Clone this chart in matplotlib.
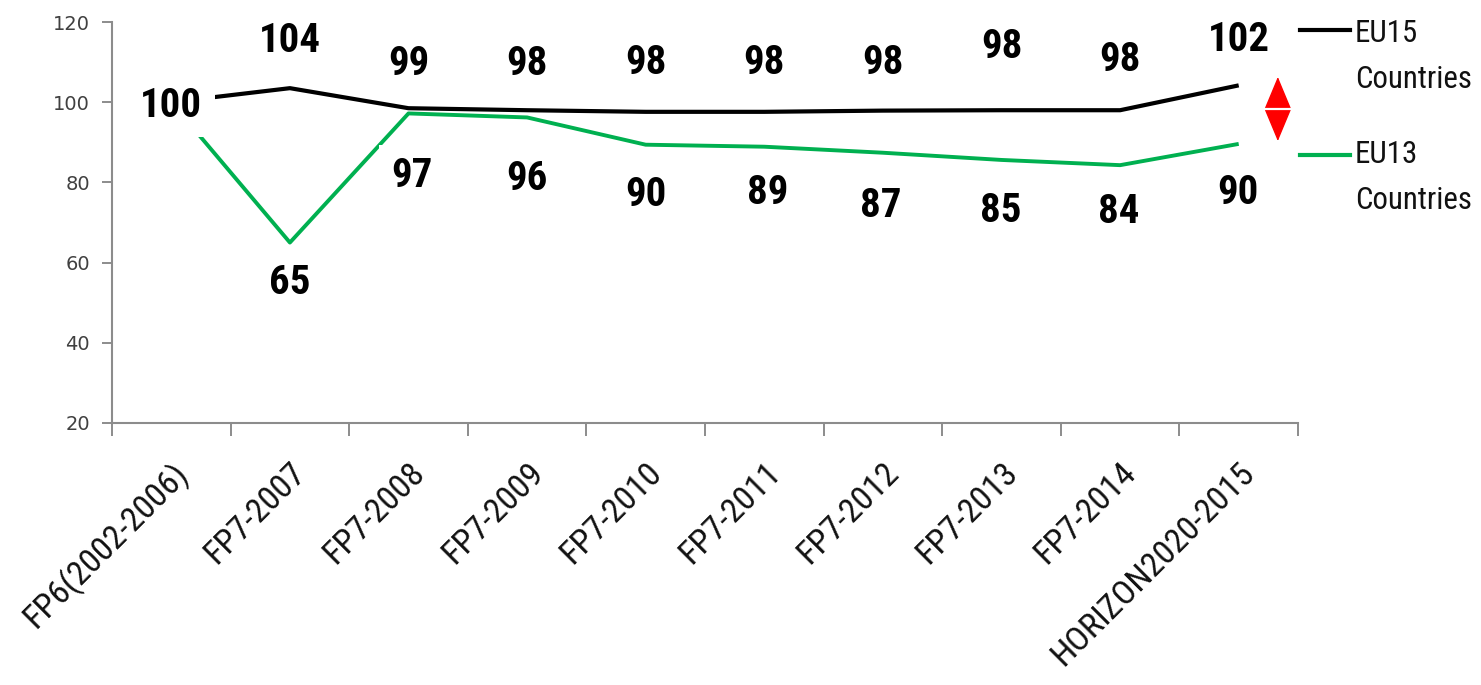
import matplotlib
matplotlib.use("Agg")
import matplotlib.pyplot as plt
from matplotlib import font_manager as fm
from matplotlib.font_manager import FontProperties
from matplotlib.textpath import TextToPath
from matplotlib.lines import Line2D
from matplotlib.transforms import ScaledTranslation

# ---------------- data ----------------
categories = ["FP6(2002-2006)", "FP7-2007", "FP7-2008", "FP7-2009", "FP7-2010",
              "FP7-2011", "FP7-2012", "FP7-2013", "FP7-2014", "HORIZON2020-2015"]
eu15 = [100, 103.5, 98.5, 98, 97.6, 97.6, 97.9, 98, 98, 104.2]
eu15_labels = ["100", "104", "99", "98", "98", "98", "98", "98", "98", "102"]
eu13 = [100, 65, 97.2, 96.2, 89.4, 88.9, 87.4, 85.6, 84.3, 89.6]
eu13_labels = ["", "65", "97", "96", "90", "89", "87", "85", "84", "90"]
series_names = ["EU15\nCountries", "EU13\nCountries"]
yticks = [20, 40, 60, 80, 100, 120]

# ---------------- fonts ----------------
ttf = fm.fontManager.ttflist
names = {f.name for f in ttf}
NARROW = None
NARROW_STRETCH = "normal"
for cand in ["Liberation Sans Narrow", "Roboto Condensed", "Open Sans Condensed",
             "DejaVu Sans Condensed", "Arial Narrow"]:
    if cand in names:
        NARROW = cand
        break
if NARROW is None:
    NARROW = "DejaVu Sans"
    if any(f.name == "DejaVu Sans" and f.stretch == "condensed" for f in ttf):
        NARROW_STRETCH = "condensed"

_t2p = TextToPath()


def fit_size(text, target_w_px, target_cap_px, weight="normal"):
    """Largest font size (pt) so that text width <= target and cap height <= target."""
    fp = FontProperties(family=NARROW, weight=weight, stretch=NARROW_STRETCH, size=10)
    w, h, d = _t2p.get_text_width_height_descent(text, fp, ismath=False)
    capw, caph, capd = _t2p.get_text_width_height_descent("H", fp, ismath=False)
    s_w = 10 * (target_w_px * 0.72) / w
    s_h = 10 * (target_cap_px * 0.72) / caph
    return min(s_w, s_h), caph / 10.0


XLAB_FS, _ = fit_size("HORIZON2020-2015", 272, 28)
LABEL_FS, LABEL_CAP = fit_size("104", 62, 30, weight="bold")
LEG_FS, _ = fit_size("Countries", 117, 26)

GREEN = "#00B050"
GRAY = "#8C8C8C"
PX = 0.72  # points per pixel at dpi 100

# label offsets in pixels (dx, dy downwards) relative to the data point
eu15_off = [(0, 0), (0, -51), (0, -48), (0, -50), (0, -52), (0, -52), (0, -51), (0, -67), (0, -54), (0, -49)]
eu13_off = [(0, 0), (0, 37), (3, 59), (0, 58), (0, 47), (3, 43), (-2, 50), (-1, 48), (-1, 43), (-1, 46)]

W, H = 1481, 685
fig = plt.figure(figsize=(W / 100, H / 100), dpi=100)
ax = fig.add_axes([112 / W, (H - 423) / H, (1298 - 112) / W, (423 - 22) / H])

x = list(range(len(categories)))
ax.plot(x, eu15, color="black", lw=3.0, solid_capstyle="butt", zorder=3)
ax.plot(x, eu13, color=GREEN, lw=2.8, solid_capstyle="butt", zorder=3)

ax.set_xlim(-0.5, len(categories) - 0.5)
ax.set_ylim(20, 120)
ax.set_yticks(yticks)
ax.set_yticklabels([str(v) for v in yticks], fontsize=14, color="#404040",
                   family="DejaVu Sans")
ax.set_xticks(x)
ax.set_xticklabels(categories, rotation=45, ha="right", va="top",
                   rotation_mode="anchor", fontsize=XLAB_FS, family=NARROW,
                   fontstretch=NARROW_STRETCH, color="#111111")
shift = ScaledTranslation(-10 / 100, 8 / 100, fig.dpi_scale_trans)
for lab in ax.get_xticklabels():
    lab.set_transform(lab.get_transform() + shift)
ax.set_xticks([i - 0.5 for i in range(len(categories) + 1)], minor=True)
ax.tick_params(axis="x", which="major", length=0, pad=24)
ax.tick_params(axis="x", which="minor", length=9, width=1.4, color=GRAY)
ax.tick_params(axis="y", length=7, width=1.4, color=GRAY, pad=9)

for s in ["top", "right"]:
    ax.spines[s].set_visible(False)
for s in ["left", "bottom"]:
    ax.spines[s].set_color(GRAY)
    ax.spines[s].set_linewidth(1.5)

cap_half = LABEL_CAP * LABEL_FS / 2


def put_labels(vals, labels, offs):
    for i, (v, t, (dx, dy)) in enumerate(zip(vals, labels, offs)):
        if not t:
            continue
        ax.annotate(t, xy=(i, v), xytext=(dx * PX, -dy * PX - cap_half),
                    textcoords="offset points", ha="center", va="baseline",
                    fontsize=LABEL_FS, fontweight="bold", family=NARROW,
                    fontstretch=NARROW_STRETCH,
                    color="black", zorder=5, annotation_clip=False,
                    bbox=dict(boxstyle="square,pad=0.3", fc="white", ec="none"))


put_labels(eu15, eu15_labels, eu15_off)
put_labels(eu13, eu13_labels, eu13_off)

# red double arrow showing the gap at the end
arr_x = 9.33
arr_top, arr_bot = 106.3, 90.3
ax.annotate("", xy=(arr_x, arr_top), xytext=(arr_x, arr_bot),
            arrowprops=dict(arrowstyle="<|-|>,head_length=1.08,head_width=0.45",
                            color="red", lw=1.0, shrinkA=0, shrinkB=0,
                            mutation_scale=20),
            annotation_clip=False, zorder=4)
mid = (arr_top + arr_bot) / 2
ax.plot([arr_x - 0.11, arr_x + 0.11], [mid, mid], color="white", lw=1.6,
        zorder=6, clip_on=False)

# legend drawn at the right
legend_items = [(series_names[0], "black", 30, 42), (series_names[1], GREEN, 155, 163)]
for name, col, ly, base in legend_items:
    fig.add_artist(Line2D([1300 / W, 1350 / W], [1 - ly / H, 1 - ly / H],
                          color=col, lw=3.0, transform=fig.transFigure))
    for k, line in enumerate(name.split("\n")):
        fig.text(1355 / W, 1 - (base + 46 * k) / H, line, fontsize=LEG_FS,
                 family=NARROW, stretch=NARROW_STRETCH,
                 va="baseline", ha="left", color="#111111")

fig.savefig("out.png", dpi=100)
